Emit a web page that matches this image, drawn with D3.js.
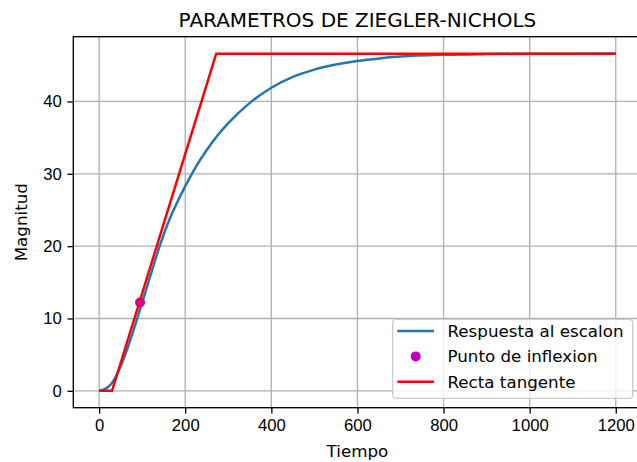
<!DOCTYPE html>
<html>
<head>
<meta charset="utf-8">
<script src="https://cdn.jsdelivr.net/npm/d3@7"></script>
<style>
  body { margin: 0; background: #fff; }
  svg { display: block; font-family: "DejaVu Sans", sans-serif; }
  .grid line { stroke: #b0b0b0; stroke-width: 1.33; }
  .axis text { font-size: 16.7px; fill: #000; }
  .axis path, .axis line { stroke: #000; stroke-width: 1.33; }
</style>
</head>
<body>
<svg></svg>
<script>
var width = 637,
    height = 462;

// step response
var tiempo = [0, 10, 20, 30, 40, 50, 60, 70, 80, 90, 100, 120, 140, 160, 180, 200, 225, 250, 275, 300, 350, 400, 450, 500, 550, 600, 650, 700, 800, 900, 1000, 1100, 1200];
var magnitud = [0, 0.15, 0.5, 1.1, 2.1, 3.4, 4.9, 6.6, 8.4, 10.3, 12.2, 16.1, 19.9, 23.2, 25.9, 28.3, 31.0, 33.3, 35.3, 37.0, 39.8, 41.9, 43.4, 44.4, 45.1, 45.6, 45.95, 46.2, 46.45, 46.55, 46.6, 46.61, 46.62];

// tangent line
var tangT = [0, 30, 272, 1200];
var tangY = [0, 0, 46.6, 46.6];

// inflection point
var inflT = [95];
var inflY = [12.2];

var xTicks = [0, 200, 400, 600, 800, 1000, 1200];
var yTicks = [0, 10, 20, 30, 40];

var legendLabels = ['Respuesta al escalon', 'Punto de inflexion', 'Recta tangente'];

var axLeft = 73.3, axRight = 641.6, axTop = 36.7, axBottom = 407.7;

// matplotlib style 5% margins
var xMin = d3.min(tiempo), xMax = d3.max(tiempo);
var yMin = d3.min(magnitud), yMax = d3.max(magnitud);
var xPad = (xMax - xMin) * 0.05, yPad = (yMax - yMin) * 0.05;

var x = d3.scaleLinear().domain([xMin - xPad, xMax + xPad]).range([axLeft, axRight]);
var y = d3.scaleLinear().domain([yMin - yPad, yMax + yPad]).range([axBottom, axTop]);

var svg = d3.select('svg')
    .attr('width', width)
    .attr('height', height);

svg.append('defs').append('clipPath')
    .attr('id', 'clip')
    .append('rect')
    .attr('x', axLeft).attr('y', axTop)
    .attr('width', axRight - axLeft).attr('height', axBottom - axTop);

// grid
var grid = svg.append('g').attr('class', 'grid');
grid.selectAll('.gx')
    .data(xTicks)
    .enter().append('line')
    .attr('x1', function (d) { return x(d); })
    .attr('x2', function (d) { return x(d); })
    .attr('y1', axTop).attr('y2', axBottom);
grid.selectAll('.gy')
    .data(yTicks)
    .enter().append('line')
    .attr('y1', function (d) { return y(d); })
    .attr('y2', function (d) { return y(d); })
    .attr('x1', axLeft).attr('x2', axRight);

var plot = svg.append('g').attr('clip-path', 'url(#clip)');

var respuesta = tiempo.map(function (t, i) { return [t, magnitud[i]]; });
var tangente = tangT.map(function (t, i) { return [t, tangY[i]]; });

var line = d3.line()
    .x(function (d) { return x(d[0]); })
    .y(function (d) { return y(d[1]); });

plot.append('path')
    .datum(respuesta)
    .attr('d', line.curve(d3.curveMonotoneX))
    .attr('fill', 'none')
    .attr('stroke', '#1f77b4')
    .attr('stroke-width', 2.5);

plot.selectAll('.infl')
    .data(inflT)
    .enter().append('circle')
    .attr('cx', function (d) { return x(d); })
    .attr('cy', function (d, i) { return y(inflY[i]); })
    .attr('r', 5)
    .attr('fill', '#bf00bf');

plot.append('path')
    .datum(tangente)
    .attr('d', line.curve(d3.curveLinear))
    .attr('fill', 'none')
    .attr('stroke', '#ff0000')
    .attr('stroke-width', 2.5);

// axes
svg.append('g')
    .attr('class', 'axis')
    .attr('transform', 'translate(0,' + axBottom + ')')
    .call(d3.axisBottom(x).tickValues(xTicks).tickFormat(d3.format('d'))
        .tickSize(5.8).tickPadding(5.5).tickSizeOuter(0))
    .select('.domain').remove();

svg.append('g')
    .attr('class', 'axis')
    .attr('transform', 'translate(' + axLeft + ',0)')
    .call(d3.axisLeft(y).tickValues(yTicks).tickFormat(d3.format('d'))
        .tickSize(5.8).tickPadding(5.8).tickSizeOuter(0))
    .select('.domain').remove();

// spines
svg.append('rect')
    .attr('x', axLeft).attr('y', axTop)
    .attr('width', axRight - axLeft).attr('height', axBottom - axTop)
    .attr('fill', 'none')
    .attr('stroke', '#000')
    .attr('stroke-width', 1.33);

// labels
svg.append('text')
    .attr('x', (axLeft + axRight) / 2)
    .attr('y', 26.7)
    .attr('text-anchor', 'middle')
    .style('font-size', '20px')
    .text('PARAMETROS DE ZIEGLER-NICHOLS');

svg.append('text')
    .attr('x', (axLeft + axRight) / 2)
    .attr('y', 457)
    .attr('text-anchor', 'middle')
    .style('font-size', '16.7px')
    .text('Tiempo');

svg.append('text')
    .attr('transform', 'translate(27,' + ((axTop + axBottom) / 2) + ')rotate(-90)')
    .attr('text-anchor', 'middle')
    .style('font-size', '16.7px')
    .text('Magnitud');

// legend (lower right)
var legend = svg.append('g');
legend.append('rect')
    .attr('x', 392.7).attr('y', 319.3)
    .attr('width', 240).attr('height', 79)
    .attr('rx', 3.5)
    .attr('fill', 'rgba(255,255,255,0.8)')
    .attr('stroke', '#cccccc')
    .attr('stroke-width', 1.33);

var rows = legend.selectAll('.row')
    .data(legendLabels)
    .enter().append('g')
    .attr('transform', function (d, i) { return 'translate(0,' + (331 + i * 25.4) + ')'; });

rows.filter(function (d, i) { return i !== 1; })
    .append('line')
    .attr('x1', 397.3).attr('x2', 434)
    .attr('stroke', function (d, i) { return i === 0 ? '#1f77b4' : '#ff0000'; })
    .attr('stroke-width', 2.5);

rows.filter(function (d, i) { return i === 1; })
    .append('circle')
    .attr('cx', 415.7)
    .attr('r', 5)
    .attr('fill', '#bf00bf');

rows.append('text')
    .attr('x', 447.5)
    .attr('y', 6)
    .style('font-size', '16.7px')
    .text(function (d) { return d; });
</script>
</body>
</html>
